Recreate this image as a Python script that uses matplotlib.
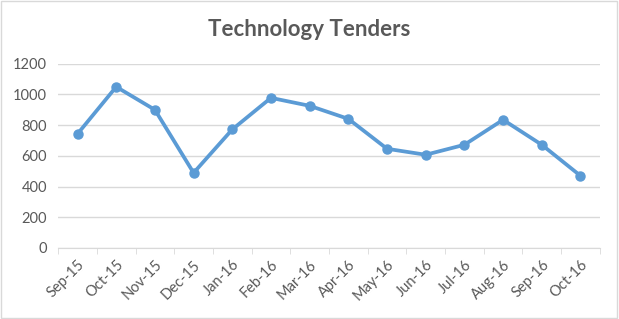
import matplotlib
matplotlib.use('Agg')
import matplotlib.pyplot as plt
from matplotlib.patches import Rectangle

plt.rcParams['font.family'] = ['Lato', 'DejaVu Sans']

months = ['Sep-15', 'Oct-15', 'Nov-15', 'Dec-15', 'Jan-16', 'Feb-16', 'Mar-16',
          'Apr-16', 'May-16', 'Jun-16', 'Jul-16', 'Aug-16', 'Sep-16', 'Oct-16']
tenders = [743, 1050, 900, 489, 772, 978, 926, 841, 646, 607, 672, 835, 672, 470]
yticks = [0, 200, 400, 600, 800, 1000, 1200]

grey = '#595959'
fig = plt.figure(figsize=(6.19, 3.19), dpi=100)
ax = fig.add_axes([0.094, 0.223, 0.875, 0.577])

x = list(range(len(months)))
ax.plot(x, tenders, color='#5B9BD5', lw=2.7, marker='o', ms=6.5, zorder=3,
        solid_capstyle='round')

ax.set_xlim(-0.5, len(months) - 0.5)
ax.set_ylim(0, 1200)
ax.set_yticks(yticks)
ax.set_yticklabels([str(v) for v in yticks], color=grey, fontsize=10.5)
ax.set_xticks(x)
ax.set_xticklabels(months, rotation=45, ha='right', rotation_mode='anchor',
                   color=grey, fontsize=10.5)
ax.set_xticks([i - 0.5 for i in range(len(months) + 1)], minor=True)
ax.tick_params(axis='x', which='major', length=0, pad=7)
ax.tick_params(axis='x', which='minor', length=4, color='#d9d9d9')
ax.tick_params(axis='y', length=0, pad=8)
ax.grid(axis='y', color='#d9d9d9', lw=1)
for s in ['top', 'right', 'left']:
    ax.spines[s].set_visible(False)
ax.spines['bottom'].set_color('#d9d9d9')

fig.suptitle('Technology Tenders', x=0.5, y=0.94, fontsize=16,
             fontweight='bold', color=grey)
fig.patches.append(Rectangle((0.002, 0.003), 0.995, 0.994, transform=fig.transFigure,
                             fill=False, edgecolor='#d9d9d9', lw=1))
fig.savefig('out.png', dpi=100)
